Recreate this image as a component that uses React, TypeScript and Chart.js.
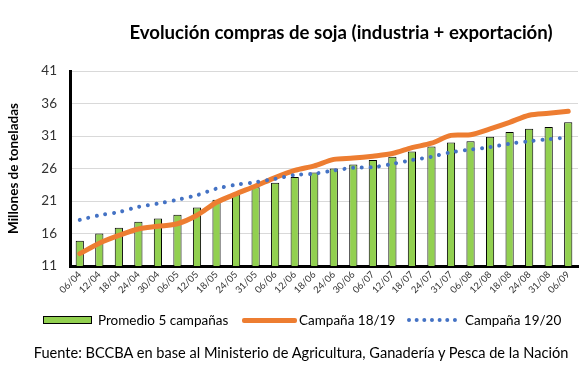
import React, { useEffect, useRef } from "react";
import { Chart, registerables } from "chart.js";

Chart.register(...registerables);

const FONT = "Lato, 'Open Sans', sans-serif";

const categories = [
  "06/04", "12/04", "18/04", "24/04", "30/04", "06/05", "12/05", "18/05", "24/05", "31/05",
  "06/06", "12/06", "18/06", "24/06", "30/06", "06/07", "12/07", "18/07", "24/07", "31/07",
  "06/08", "12/08", "18/08", "24/08", "31/08", "06/09",
];

const promedio5 = [
  14.9, 16.0, 16.9, 17.8, 18.3, 18.9, 20.0, 21.2, 22.1, 23.1,
  23.8, 24.7, 25.4, 26.0, 26.6, 27.3, 27.8, 28.6, 29.4, 30.0,
  30.2, 30.9, 31.6, 32.1, 32.4, 33.1,
];

const campana1819 = [
  12.9, 14.5, 15.7, 16.7, 17.1, 17.5, 18.8, 20.8, 22.1, 23.3,
  24.6, 25.7, 26.4, 27.4, 27.6, 27.9, 28.3, 29.2, 29.9, 31.1,
  31.2, 32.1, 33.1, 34.2, 34.5, 34.8,
];

const campana1920 = [
  18.1, 18.8, 19.3, 20.1, 20.6, 21.2, 21.9, 22.9, 23.5, 23.9,
  24.4, 25.0, 25.2, 25.7, 26.1, 26.2, 26.7, 27.3, 27.8, 28.5,
  28.9, 29.3, 29.8, 30.2, 30.5, 30.8,
];

const yMin = 11;
const yMax = 41;
const yStep = 5;

const seriesNames = ["Promedio 5 campañas", "Campaña 18/19", "Campaña 19/20"];
const titleText = "Evolución compras de soja (industria + exportación)";
const yTitle = "Millones de toneladas";
const sourceText = "Fuente: BCCBA en base al Ministerio de Agricultura, Ganadería y Pesca de la Nación";

const GREEN = "#92D050";
const ORANGE = "#ED7D31";
const BLUE = "#4472C4";

export default function App() {
  const ref = useRef<HTMLCanvasElement>(null);

  useEffect(() => {
    const chart = new Chart(ref.current!, {
      type: "bar",
      data: {
        labels: categories,
        datasets: [
          {
            type: "bar",
            label: seriesNames[0],
            data: promedio5,
            backgroundColor: GREEN,
            borderColor: "#000",
            borderWidth: 1,
            barPercentage: 0.42,
            categoryPercentage: 1,
            order: 3,
          },
          {
            type: "line",
            label: seriesNames[1],
            data: campana1819,
            borderColor: ORANGE,
            borderWidth: 5,
            tension: 0.3,
            pointRadius: 0,
            borderCapStyle: "round",
            borderJoinStyle: "round",
            fill: false,
            order: 2,
          },
          {
            type: "line",
            label: seriesNames[2],
            data: campana1920,
            borderColor: BLUE,
            borderWidth: 4,
            borderDash: [0.01, 8.7],
            borderCapStyle: "round",
            tension: 0.3,
            pointRadius: 0,
            fill: false,
            order: 1,
          },
        ],
      },
      options: {
        responsive: false,
        animation: false,
        layout: { padding: { top: 71, left: 0, right: 7, bottom: 81 } },
        plugins: {
          legend: { display: false },
          title: { display: false },
          tooltip: { enabled: false },
        },
        scales: {
          x: {
            grid: { display: false, drawTicks: false },
            border: { display: true, color: "#000", width: 3 },
            ticks: {
              autoSkip: false,
              maxRotation: 45,
              minRotation: 45,
              padding: 3,
              color: "#333",
              font: { family: FONT, size: 9.5 },
            },
            afterFit: (s: any) => {
              s.height = 40;
            },
          },
          y: {
            min: yMin,
            max: yMax,
            ticks: {
              stepSize: yStep,
              padding: 13,
              color: "#333",
              font: { family: FONT, size: 13.5 },
            },
            grid: { color: "#d9d9d9", lineWidth: 1, drawTicks: false },
            border: { display: true, color: "#000", width: 3 },
            title: {
              display: true,
              text: yTitle,
              color: "#000",
              font: { family: FONT, size: 13.5, weight: "bold" },
              padding: { top: 6, bottom: 0 },
            },
            afterFit: (s: any) => {
              s.width = 70;
            },
          },
        },
      },
    });
    return () => chart.destroy();
  }, []);

  const legendText: React.CSSProperties = {
    position: "absolute",
    top: 311,
    fontSize: 13.5,
    lineHeight: "18px",
    color: "#000",
    whiteSpace: "nowrap",
  };

  return (
    <div
      style={{
        position: "absolute",
        left: 0,
        top: 0,
        width: 585,
        height: 387,
        background: "#fff",
        fontFamily: FONT,
        overflow: "hidden",
      }}
    >
      <canvas
        ref={ref}
        width={585}
        height={387}
        style={{ position: "absolute", left: 0, top: 0, width: 585, height: 387 }}
      />
      <div
        style={{
          position: "absolute",
          left: 341,
          top: 20,
          transform: "translateX(-50%)",
          fontSize: 18.6,
          fontWeight: "bold",
          lineHeight: "24px",
          whiteSpace: "nowrap",
          color: "#000",
        }}
      >
        {titleText}
      </div>
      <div
        style={{
          position: "absolute",
          left: 43,
          top: 316,
          width: 49,
          height: 8,
          boxSizing: "border-box",
          background: GREEN,
          border: "1px solid #000",
        }}
      />
      <div style={{ ...legendText, left: 98 }}>{seriesNames[0]}</div>
      <div
        style={{
          position: "absolute",
          left: 242,
          top: 318,
          width: 55,
          height: 5,
          background: ORANGE,
          borderRadius: 2,
        }}
      />
      <div style={{ ...legendText, left: 299 }}>{seriesNames[1]}</div>
      <div
        style={{
          position: "absolute",
          left: 407,
          top: 318,
          width: 50,
          height: 0,
          borderTop: `4px dotted ${BLUE}`,
        }}
      />
      <div style={{ ...legendText, left: 465 }}>{seriesNames[2]}</div>
      <div
        style={{
          position: "absolute",
          left: 301,
          top: 343,
          transform: "translateX(-50%)",
          fontSize: 14.6,
          lineHeight: "20px",
          whiteSpace: "nowrap",
          color: "#000",
        }}
      >
        {sourceText}
      </div>
    </div>
  );
}
